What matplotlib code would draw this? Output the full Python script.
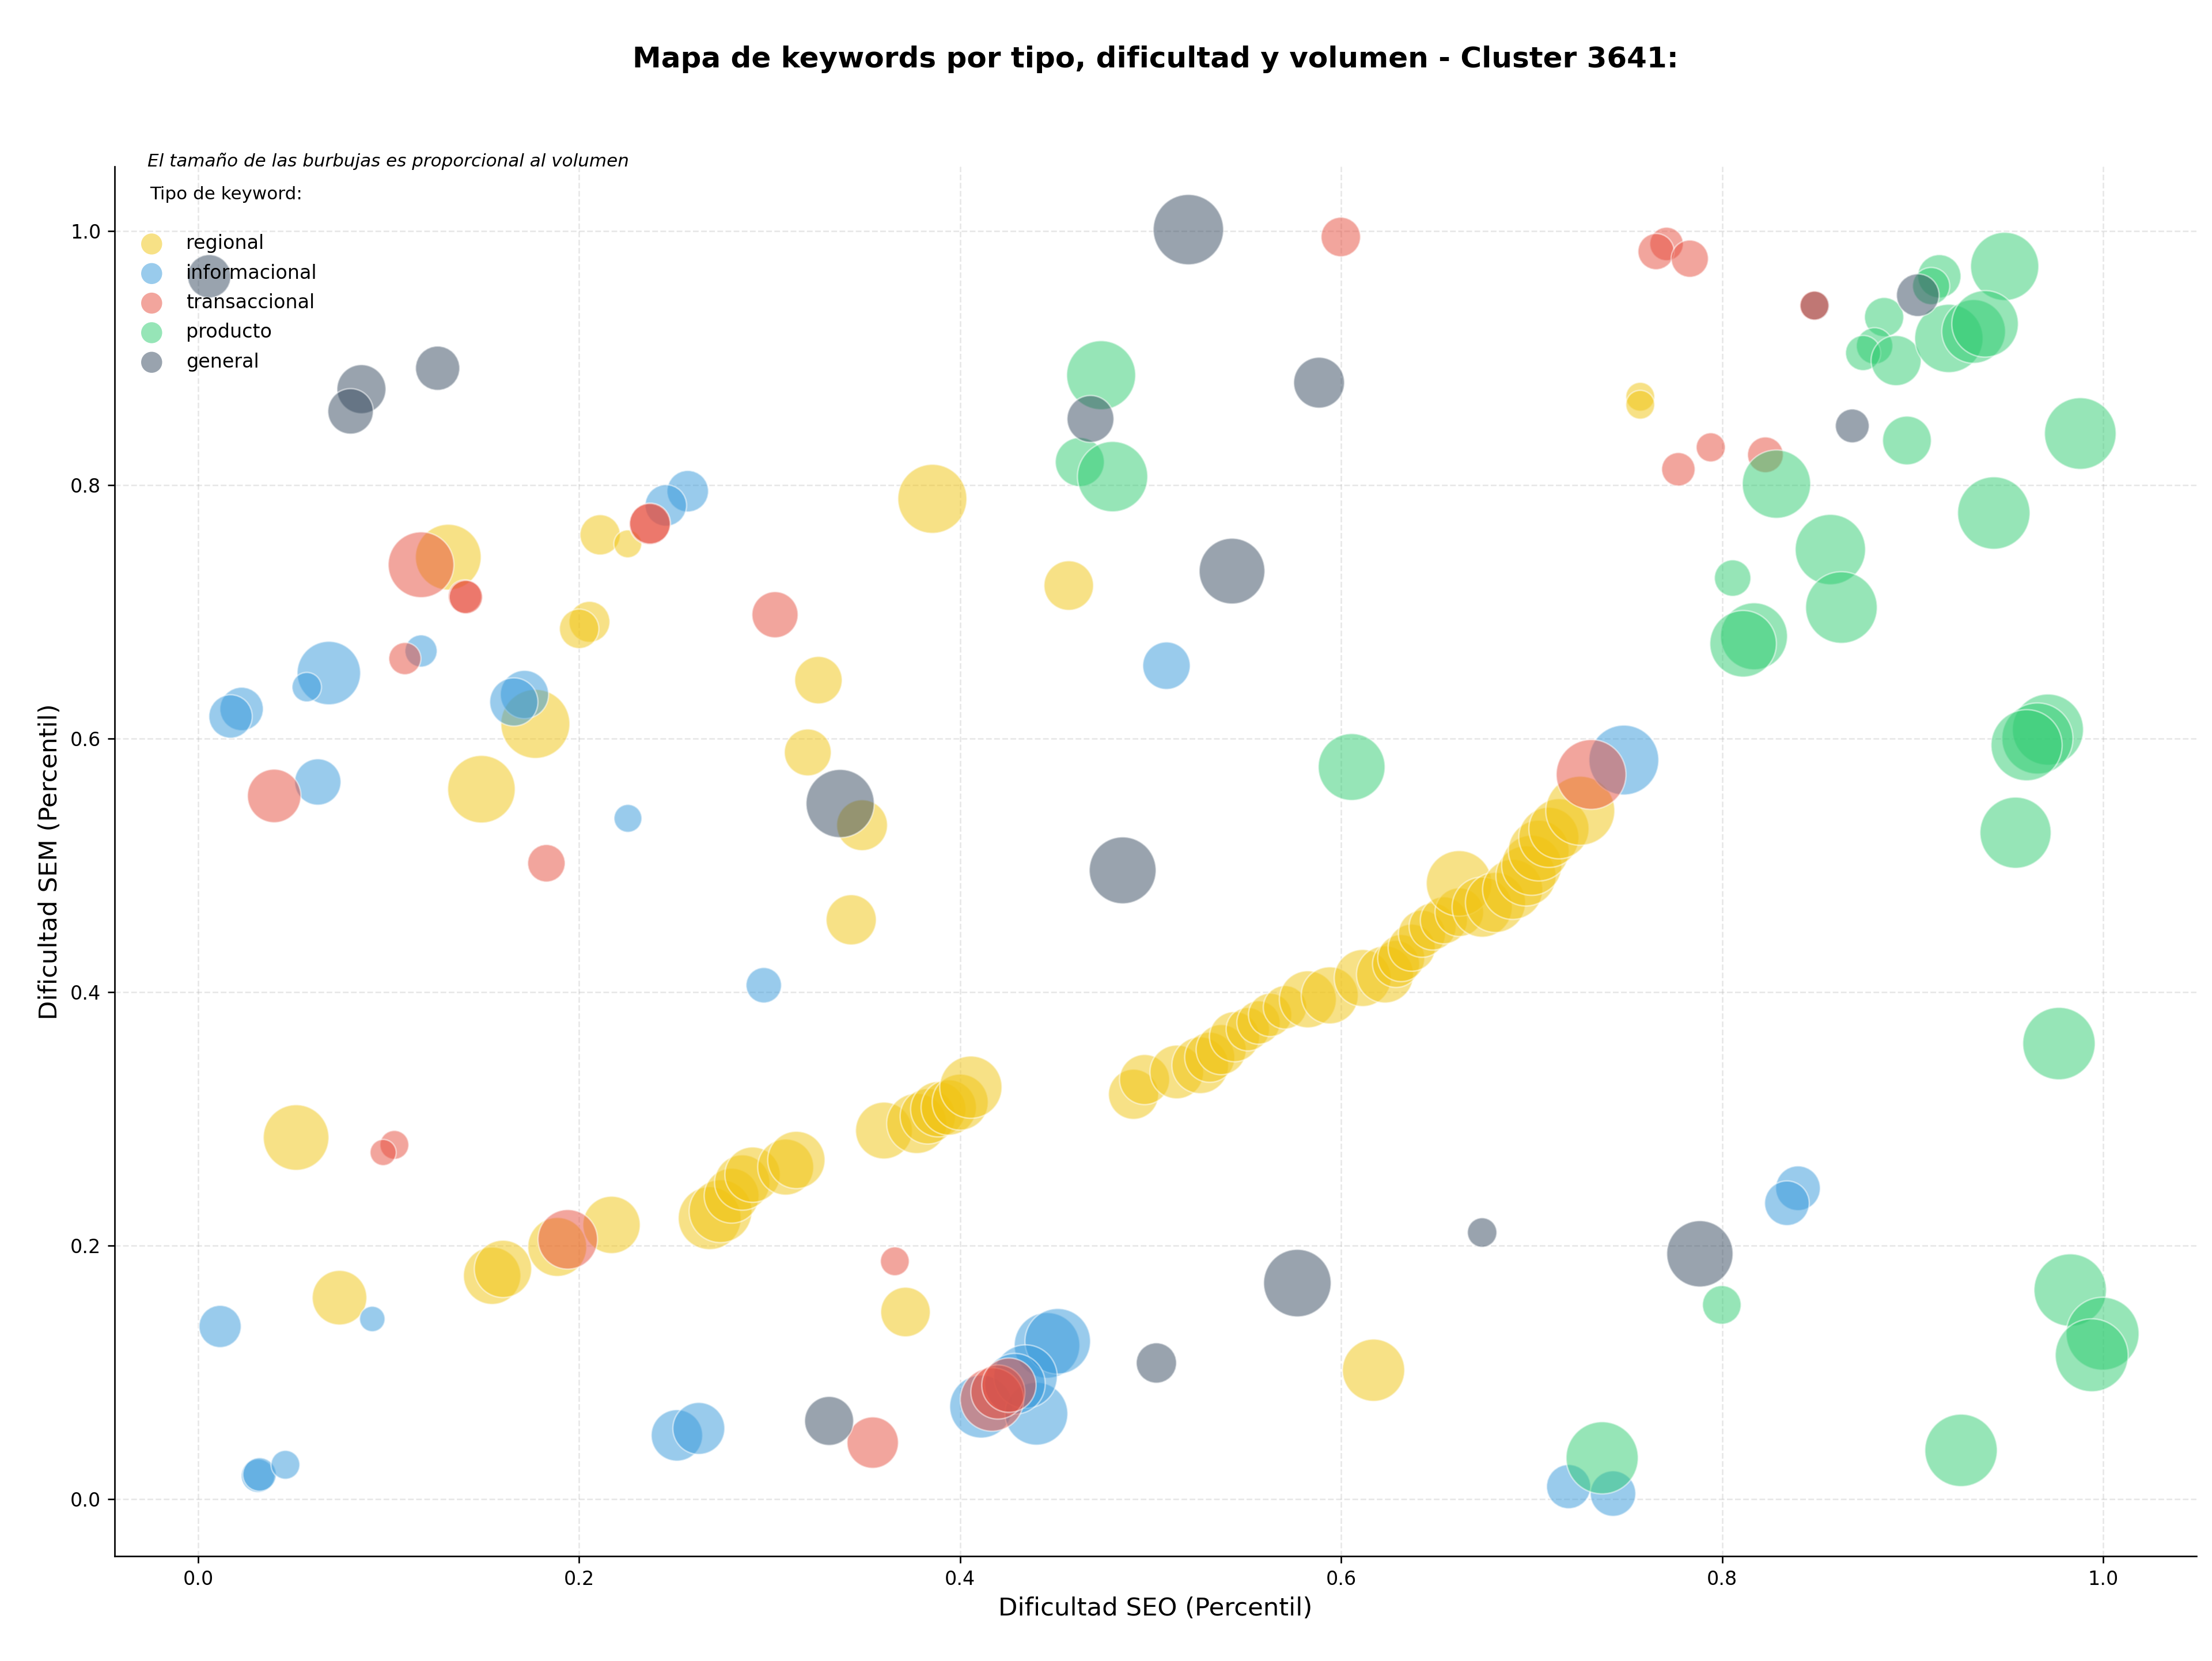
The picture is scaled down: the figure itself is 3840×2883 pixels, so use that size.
import matplotlib
matplotlib.use("Agg")
import matplotlib.pyplot as plt
import numpy as np

# tipos de keyword y colores
tipos = ['regional', 'informacional', 'transaccional', 'producto', 'general']
colores = ['#F1C40F', '#3498DB', '#E74C3C', '#2ECC71', '#34495E']

# regional
reg_seo = [0.1313, 0.211, 0.2255, 0.2054, 0.200, 0.177, 0.1487, 0.3854, 0.457, 0.3256,
           0.320, 0.3485, 0.757, 0.757, 0.3428, 0.0514, 0.0742, 0.1543, 0.160, 0.1885,
           0.217, 0.2685, 0.2742, 0.280, 0.2856, 0.291, 0.3084, 0.314, 0.360, 0.3772,
           0.383, 0.3885, 0.394, 0.400, 0.4056, 0.3713, 0.617, 0.491, 0.4968, 0.5137,
           0.526, 0.531, 0.537, 0.544, 0.551, 0.5566, 0.5627, 0.5705, 0.5825, 0.594,
           0.6113, 0.623, 0.6288, 0.6315, 0.637, 0.6424, 0.648, 0.6539, 0.662, 0.6619,
           0.674, 0.681, 0.690, 0.697, 0.700, 0.7037, 0.709, 0.7143, 0.7255]
reg_sem = [0.743, 0.7606, 0.7535, 0.692, 0.6865, 0.6115, 0.560, 0.789, 0.7206, 0.646,
           0.589, 0.5316, 0.8695, 0.8632, 0.457, 0.2853, 0.159, 0.1763, 0.1817, 0.199,
           0.2164, 0.2217, 0.2272, 0.2394, 0.2498, 0.256, 0.262, 0.2676, 0.2908, 0.2964,
           0.302, 0.3076, 0.309, 0.3132, 0.325, 0.1477, 0.1018, 0.3194, 0.331, 0.337,
           0.3423, 0.3486, 0.3546, 0.3648, 0.3707, 0.376, 0.382, 0.388, 0.3943, 0.3974,
           0.4111, 0.4139, 0.4222, 0.4268, 0.435, 0.446, 0.4517, 0.4566, 0.463, 0.4857,
           0.467, 0.4707, 0.481, 0.4916, 0.500, 0.5116, 0.522, 0.5288, 0.543]
reg_vol = [1170, 440, 210, 453, 422, 1290, 1235, 1290, 665, 610,
           595, 700, 225, 225, 682, 1165, 806, 890, 890, 940,
           890, 1070, 1070, 815, 830, 830, 850, 890, 875, 980,
           830, 830, 830, 850, 1050, 665, 1050, 680, 680, 780,
           870, 680, 680, 680, 510, 510, 510, 510, 880, 880,
           880, 880, 600, 600, 600, 600, 600, 600, 640, 1165,
           980, 980, 980, 980, 980, 1000, 980, 980, 1290]

# informacional
inf_seo = [0.257, 0.2455, 0.117, 0.0686, 0.057, 0.0228, 0.0170, 0.1713, 0.1657, 0.0628,
           0.2256, 0.5083, 0.7484, 0.2969, 0.0115, 0.0914, 0.0314, 0.0322, 0.0458, 0.2513,
           0.2628, 0.411, 0.440, 0.4456, 0.4512, 0.4343, 0.4287, 0.8398, 0.834, 0.7194,
           0.7427]
inf_sem = [0.795, 0.7838, 0.669, 0.6516, 0.6405, 0.6233, 0.6174, 0.6347, 0.6288, 0.5657,
           0.537, 0.6574, 0.583, 0.4054, 0.1363, 0.1422, 0.0186, 0.0196, 0.0272, 0.0504,
           0.0559, 0.0731, 0.0675, 0.1214, 0.1246, 0.0968, 0.0911, 0.2453, 0.2335, 0.010,
           0.0045]
inf_vol = [466, 466, 280, 1090, 235, 510, 510, 630, 630, 580,
           210, 610, 1320, 340, 482, 175, 303, 303, 225, 715,
           730, 1070, 1070, 1165, 1165, 1090, 1000, 540, 540, 528,
           560]

# transaccional
tra_seo = [0.117, 0.140, 0.1405, 0.237, 0.2372, 0.1085, 0.0399, 0.1828, 0.3028, 0.5998,
           0.7708, 0.7653, 0.783, 0.777, 0.794, 0.8227, 0.8484, 0.7312, 0.103, 0.0971,
           0.194, 0.3657, 0.3541, 0.4167, 0.4198, 0.4256]
tra_sem = [0.737, 0.712, 0.7115, 0.769, 0.7695, 0.663, 0.5547, 0.5016, 0.6976, 0.9955,
           0.990, 0.984, 0.9784, 0.8123, 0.8296, 0.8237, 0.9414, 0.5716, 0.2795, 0.2735,
           0.205, 0.1877, 0.0447, 0.0787, 0.0846, 0.090]
tra_vol = [1170, 303, 303, 453, 453, 280, 775, 380, 576, 422,
           303, 355, 375, 303, 230, 346, 228, 1320, 225, 185,
           960, 225, 715, 1090, 795, 800]

# producto
pro_seo = [0.474, 0.4628, 0.480, 0.6055, 0.9483, 0.914, 0.9097, 0.885, 0.880, 0.874,
           0.8913, 0.919, 0.932, 0.938, 0.897, 0.988, 0.8285, 0.9426, 0.8568, 0.8055,
           0.8626, 0.8167, 0.811, 0.971, 0.9655, 0.9598, 0.954, 0.9768, 0.7998, 0.9827,
           0.9997, 0.9940, 0.9254, 0.737]
pro_sem = [0.8865, 0.818, 0.8065, 0.5775, 0.9723, 0.9645, 0.9568, 0.9323, 0.9096, 0.904,
           0.898, 0.9155, 0.921, 0.927, 0.835, 0.8405, 0.8006, 0.7778, 0.749, 0.7265,
           0.7033, 0.6806, 0.6747, 0.607, 0.600, 0.5947, 0.5257, 0.3594, 0.1533, 0.165,
           0.1306, 0.1136, 0.0386, 0.0327]
pro_vol = [1290, 650, 1340, 1210, 1260, 507, 375, 417, 360, 335,
           680, 1265, 1100, 1200, 643, 1390, 1265, 1420, 1340, 360,
           1390, 1215, 1200, 1370, 1370, 1370, 1370, 1420, 404, 1420,
           1440, 1440, 1420, 1410]

# general
gen_seo = [0.0058, 0.0857, 0.080, 0.1257, 0.4684, 0.5198, 0.5884, 0.5427, 0.337, 0.4853,
           0.9027, 0.8683, 0.7883, 0.674, 0.577, 0.503, 0.3312]
gen_sem = [0.9645, 0.8755, 0.858, 0.892, 0.852, 1.0013, 0.8806, 0.732, 0.5487, 0.496,
           0.9496, 0.8465, 0.1936, 0.2104, 0.1705, 0.1075, 0.0618]
gen_vol = [508, 650, 560, 530, 595, 1340, 700, 1170, 1260, 1210,
           493, 310, 1190, 235, 1235, 440, 650]
# keyword general tapada por una transaccional
gen_extra = ([0.8484], [0.9414], [228])

datos = [(reg_seo, reg_sem, reg_vol), (inf_seo, inf_sem, inf_vol),
         (tra_seo, tra_sem, tra_vol), (pro_seo, pro_sem, pro_vol),
         (gen_seo, gen_sem, gen_vol)]

fig = plt.figure(figsize=(16, 12.0125), dpi=240)
ax = fig.add_axes([0.0517, 0.063, 0.9413, 0.8367])

# la general que queda debajo de la transaccional
ax.scatter(gen_extra[0], gen_extra[1], s=gen_extra[2], c=colores[4], alpha=0.5,
           edgecolors='white', linewidths=0.8)

for tipo, color, (xs, ys, vs) in zip(tipos, colores, datos):
    ax.scatter(xs, ys, s=vs, c=color, alpha=0.5, edgecolors='white',
               linewidths=0.8, label=tipo)

ax.set_xlim(-0.044, 1.049)
ax.set_ylim(-0.045, 1.051)
ax.set_xticks(np.arange(0, 1.01, 0.2))
ax.set_yticks(np.arange(0, 1.01, 0.2))
ax.grid(True, linestyle='--', alpha=0.3)
ax.set_axisbelow(True)
ax.spines['top'].set_visible(False)
ax.spines['right'].set_visible(False)

ax.set_xlabel('Dificultad SEO (Percentil)', fontsize=13)
ax.set_ylabel('Dificultad SEM (Percentil)', fontsize=13)
ax.text(0.5, 1.077, 'Mapa de keywords por tipo, dificultad y volumen - Cluster 3641:',
        transform=ax.transAxes, ha='center', va='center', fontsize=15, fontweight='bold')

ax.text(0.016, 1.004, 'El tamaño de las burbujas es proporcional al volumen',
        transform=ax.transAxes, fontsize=9.3, style='italic', va='center')
ax.text(0.017, 0.980, 'Tipo de keyword:', transform=ax.transAxes, fontsize=9.3, va='center')

leg = ax.legend(loc='upper left', bbox_to_anchor=(0.005, 0.957), borderaxespad=0,
                frameon=False, fontsize=10, labelspacing=0.55)
for h in leg.legend_handles:
    h.set_sizes([120])
    h.set_edgecolor('none')

fig.savefig('out.png', dpi=240)
